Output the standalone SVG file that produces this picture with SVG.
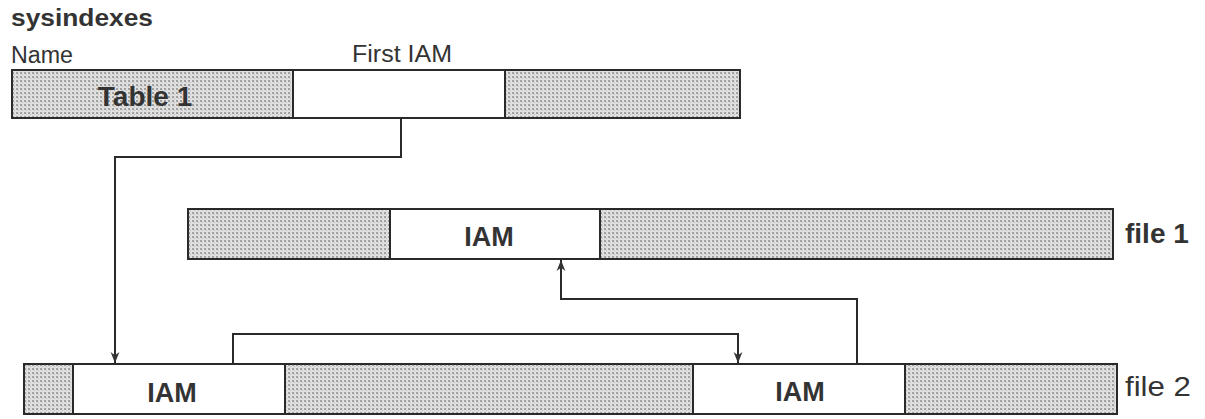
<svg xmlns="http://www.w3.org/2000/svg" width="1205" height="419" viewBox="0 0 1205 419">
<defs>
<pattern id="dots" width="4" height="4" patternUnits="userSpaceOnUse">
<rect width="4" height="4" fill="#e0e0e0"/>
<rect x="0" y="0" width="2" height="2" fill="#a0a0a0"/>
<rect x="2" y="2" width="1" height="1" fill="#bcbcbc"/>
</pattern>
<marker id="arr" viewBox="0 0 10 10" refX="10" refY="5" markerWidth="11" markerHeight="11" orient="auto" markerUnits="userSpaceOnUse">
<path d="M0,1 L10,5 L0,9 L3,5 Z" fill="#333"/>
</marker>
<style>
.g{fill:url(#dots);stroke:#2a2a2a;stroke-width:2}
.w{fill:#fff;stroke:#2a2a2a;stroke-width:2}
.lbl{font-family:"Liberation Sans",Arial,sans-serif;fill:#333;font-weight:bold}
.reg{font-family:"Liberation Sans",Arial,sans-serif;fill:#333}
.c{fill:none;stroke:#2a2a2a;stroke-width:2}
</style>
</defs>
<rect width="1205" height="419" fill="#fff"/>
<g id="header">
<text class="lbl" x="11" y="26" font-size="23" textLength="142" lengthAdjust="spacingAndGlyphs" fill="#222">sysindexes</text>
<text class="reg" x="11" y="63" font-size="23" textLength="62" lengthAdjust="spacingAndGlyphs">Name</text>
<text class="reg" x="352" y="62" font-size="23" textLength="100" lengthAdjust="spacingAndGlyphs">First IAM</text>
</g>
<g id="sysindexes-row">
<rect class="g" x="12" y="70" width="281" height="48"/>
<rect class="w" x="293" y="70" width="212" height="48"/>
<rect class="g" x="505" y="70" width="235" height="48"/>
<text class="lbl" x="145" y="106" font-size="28" text-anchor="middle">Table 1</text>
</g>
<g id="file1">
<rect class="g" x="188" y="209" width="202" height="50"/>
<rect class="w" x="390" y="209" width="210" height="50"/>
<rect class="g" x="600" y="209" width="513" height="50"/>
<text class="lbl" x="489" y="246" font-size="27" text-anchor="middle">IAM</text>
<text class="lbl" x="1125" y="243" font-size="28" fill="#222">file 1</text>
</g>
<g id="file2">
<rect class="g" x="24" y="364" width="49" height="50"/>
<rect class="w" x="73" y="364" width="212" height="50"/>
<rect class="g" x="285" y="364" width="408" height="50"/>
<rect class="w" x="693" y="364" width="212" height="50"/>
<rect class="g" x="905" y="364" width="212" height="50"/>
<text class="lbl" x="172" y="402" font-size="27" text-anchor="middle">IAM</text>
<text class="lbl" x="800" y="401" font-size="27" text-anchor="middle">IAM</text>
<text class="reg" x="1125" y="396" font-size="28" textLength="66" lengthAdjust="spacingAndGlyphs" fill="#222">file 2</text>
</g>
<g id="connectors">
<path class="c" d="M401,118 V157 H115 V363" marker-end="url(#arr)"/>
<path class="c" d="M857,364 V299 H561 V260" marker-end="url(#arr)"/>
<path class="c" d="M233,364 V334 H738 V363" marker-end="url(#arr)"/>
</g>
</svg>
